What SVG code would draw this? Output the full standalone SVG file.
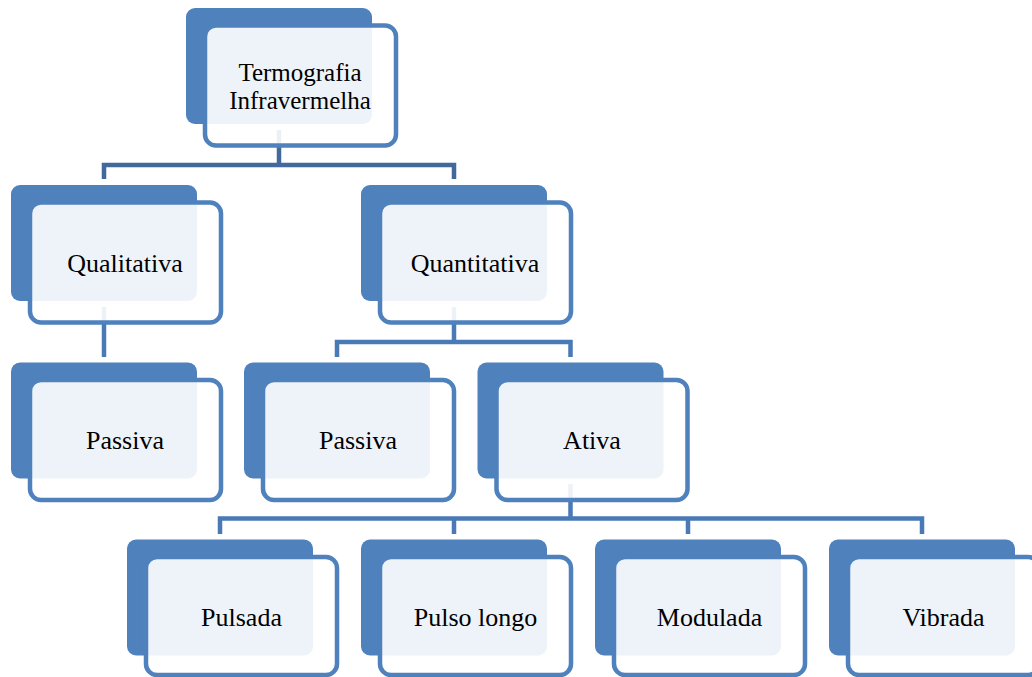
<svg xmlns="http://www.w3.org/2000/svg" width="1032" height="677" viewBox="0 0 1032 677">
<defs>
<style>
.back{fill:#4F81BD}
.front{fill:#FFFFFF;fill-opacity:0.9;stroke:#4F81BD;stroke-width:4.5}
.c1{fill:none;stroke:#41699C;stroke-width:4.5}
.c2{fill:none;stroke:#4A7AB6;stroke-width:4.5}
text{font-family:"Liberation Serif","Times New Roman",serif;font-size:26px;fill:#000;text-anchor:middle}
.two{font-size:25px}
</style>
</defs>
<rect width="1032" height="677" fill="#FFFFFF"/>
<g id="connectors">
<path class="c1" d="M279,130 V165 H104 V179 M279,165 H454 V179"/>
<path class="c2" d="M104,307 V357"/>
<path class="c2" d="M454,307 V342 H337 V357 M454,342 H570.5 V357"/>
<path class="c2" d="M570.5,484 V518.5 H220 V534 M454,518.5 V534 M570.5,518.5 H922 V534 M688,518.5 V534"/>
</g>
<g id="n-termografia">
<rect class="back" x="186" y="8" width="186" height="116" rx="9"/>
<rect class="front" x="205" y="25.5" width="191" height="120" rx="11"/>
<text class="two" x="300" y="80.5">Termografia</text>
<text class="two" x="300" y="108.5">Infravermelha</text>
</g>
<g id="n-qualitativa">
<rect class="back" x="11" y="185" width="186" height="116" rx="9"/>
<rect class="front" x="30" y="202.5" width="191" height="120" rx="11"/>
<text x="125" y="272">Qualitativa</text>
</g>
<g id="n-quantitativa">
<rect class="back" x="361" y="185" width="186" height="116" rx="9"/>
<rect class="front" x="380" y="202.5" width="191" height="120" rx="11"/>
<text x="475" y="272">Quantitativa</text>
</g>
<g id="n-passiva1">
<rect class="back" x="11" y="362.5" width="186" height="116" rx="9"/>
<rect class="front" x="30" y="380" width="191" height="120" rx="11"/>
<text x="125" y="449">Passiva</text>
</g>
<g id="n-passiva2">
<rect class="back" x="244" y="362.5" width="186" height="116" rx="9"/>
<rect class="front" x="263" y="380" width="191" height="120" rx="11"/>
<text x="358" y="449">Passiva</text>
</g>
<g id="n-ativa">
<rect class="back" x="477.5" y="362.5" width="186" height="116" rx="9"/>
<rect class="front" x="496.5" y="380" width="191" height="120" rx="11"/>
<text x="592" y="449">Ativa</text>
</g>
<g id="n-pulsada">
<rect class="back" x="127" y="539.5" width="186" height="116" rx="9"/>
<rect class="front" x="146" y="557" width="191" height="118" rx="11"/>
<text x="241.5" y="626">Pulsada</text>
</g>
<g id="n-pulsolongo">
<rect class="back" x="361" y="539.5" width="186" height="116" rx="9"/>
<rect class="front" x="380" y="557" width="191" height="118" rx="11"/>
<text x="475.5" y="626">Pulso longo</text>
</g>
<g id="n-modulada">
<rect class="back" x="595" y="539.5" width="186" height="116" rx="9"/>
<rect class="front" x="614" y="557" width="191" height="118" rx="11"/>
<text x="709.5" y="626">Modulada</text>
</g>
<g id="n-vibrada">
<rect class="back" x="829" y="539.5" width="186" height="116" rx="9"/>
<rect class="front" x="848" y="557" width="191" height="118" rx="11"/>
<text x="943.5" y="626">Vibrada</text>
</g>
</svg>
